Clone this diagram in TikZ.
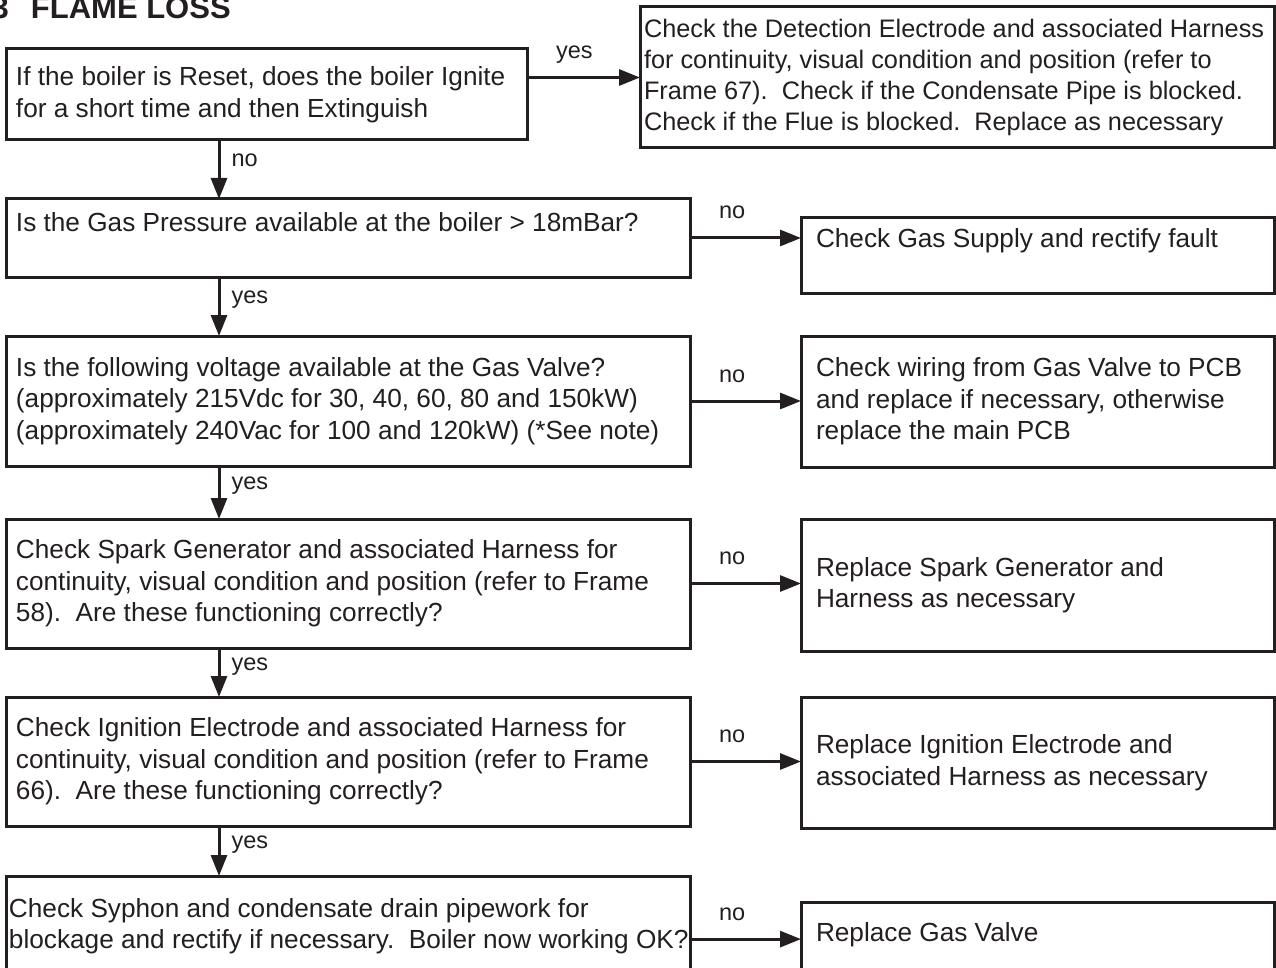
\documentclass[tikz,border=0pt]{standalone}
\usepackage{fontspec}
\setmainfont{Liberation Sans}
\usetikzlibrary{arrows.meta}
\definecolor{ink}{HTML}{231F20}

\begin{document}
\begin{tikzpicture}[x=1pt, y=1pt,
  qbox/.style={draw=ink, line width=3pt, fill=white, rectangle, outer sep=0pt,
    anchor=north west, align=flush left, inner xsep=10pt, inner ysep=2pt,
    minimum width=684pt, text width=664pt, text=ink,
    font=\fontsize{26.2}{31.5}\selectfont},
  abox/.style={qbox, minimum width=473pt, text width=443pt, inner xsep=15pt},
  lbl/.style={inner sep=0pt, text=ink, font=\fontsize{23.5}{28}\selectfont},
  flow/.style={draw=ink, line width=3pt, -{Triangle[length=21pt, width=16pt]}}]

\useasboundingbox (0,0) rectangle (1276,-968);

% heading
\node[anchor=base west, inner sep=0pt, text=ink, font=\fontsize{31}{36}\selectfont\bfseries] (title) at (-8.5,-19) {3\hspace{22pt}FLAME LOSS};

% questions (left column)
\node[qbox, minimum width=521pt, text width=501pt, minimum height=91pt] (ignite) at (6,-49) {\mbox{If the boiler is Reset, does the boiler Ignite}\\for a short time and then Extinguish};
\node[qbox, minimum height=78pt, text depth=31pt] (gas) at (6,-199) {Is the Gas Pressure available at the boiler > 18mBar?};
\node[qbox, minimum height=130pt] (volt) at (6,-336) {Is the following voltage available at the Gas Valve?\\(approximately 215Vdc for 30, 40, 60, 80 and 150kW)\\(approximately 240Vac for 100 and 120kW) (*See note)};
\node[qbox, minimum height=129pt] (spark) at (6,-519) {Check Spark Generator and associated Harness for\\continuity, visual condition and position (refer to Frame\\58).\ \ Are these functioning correctly?};
\node[qbox, minimum height=129pt] (ignel) at (6,-697) {Check Ignition Electrode and associated Harness for\\continuity, visual condition and position (refer to Frame\\66).\ \ Are these functioning correctly?};
\node[qbox, minimum height=100pt, inner xsep=3pt, text width=678pt] (syphon) at (6,-876) {Check Syphon and condensate drain pipework for\\\mbox{blockage and rectify if necessary.\ \ Boiler now working OK?}};

% actions (right column)
\node[qbox, minimum width=634pt, text width=626pt, inner xsep=4pt, minimum height=141pt, font=\fontsize{25.3}{31.3}\selectfont] (detect) at (640,-7) {\mbox{Check the Detection Electrode and associated Harness}\\for continuity, visual condition and position (refer to\\Frame 67).\ \ Check if the Condensate Pipe is blocked.\\Check if the Flue is blocked.\ \ Replace as necessary};
\node[abox, minimum height=75pt, text depth=34.5pt] (supply) at (801,-218) {Check Gas Supply and rectify fault};
\node[abox, minimum height=131pt] (wiring) at (801,-336) {Check wiring from Gas Valve to PCB\\and replace if necessary, otherwise\\replace the main PCB};
\node[abox, minimum height=132pt] (sparkfix) at (801,-519) {Replace Spark Generator and\\Harness as necessary};
\node[abox, minimum height=131pt] (ignfix) at (801,-697) {Replace Ignition Electrode and\\associated Harness as necessary};
\node[abox, minimum height=90pt, text depth=29.5pt] (valve) at (801,-902) {Replace Gas Valve};

% yes / no branches
\draw[flow] (ignite.east |- detect.west) -- (detect.west) node[lbl, pos=.42, anchor=base, yshift=19pt] {yes};
\draw[flow] ([xshift=213pt]ignite.south west) -- ([xshift=213pt]gas.north west) node[lbl, pos=.45, anchor=base west, xshift=11pt] {no};
\draw[flow] (gas.east) -- (gas.east -| supply.west) node[lbl, pos=.38, anchor=base, yshift=19pt] {no};
\draw[flow] ([xshift=213pt]gas.south west) -- ([xshift=213pt]volt.north west) node[lbl, pos=.45, anchor=base west, xshift=11pt] {yes};
\draw[flow] (volt.east) -- (volt.east -| wiring.west) node[lbl, pos=.38, anchor=base, yshift=19pt] {no};
\draw[flow] ([xshift=213pt]volt.south west) -- ([xshift=213pt]spark.north west) node[lbl, pos=.45, anchor=base west, xshift=11pt] {yes};
\draw[flow] (spark.east) -- (spark.east -| sparkfix.west) node[lbl, pos=.38, anchor=base, yshift=19pt] {no};
\draw[flow] ([xshift=213pt]spark.south west) -- ([xshift=213pt]ignel.north west) node[lbl, pos=.45, anchor=base west, xshift=11pt] {yes};
\draw[flow] (ignel.east) -- (ignel.east -| ignfix.west) node[lbl, pos=.38, anchor=base, yshift=19pt] {no};
\draw[flow] ([xshift=213pt]ignel.south west) -- ([xshift=213pt]syphon.north west) node[lbl, pos=.45, anchor=base west, xshift=11pt] {yes};
\draw[flow] (syphon.east |- valve.mid west) -- (valve.mid west) node[lbl, pos=.38, anchor=base, yshift=19pt] {no};
\end{tikzpicture}
\end{document}
